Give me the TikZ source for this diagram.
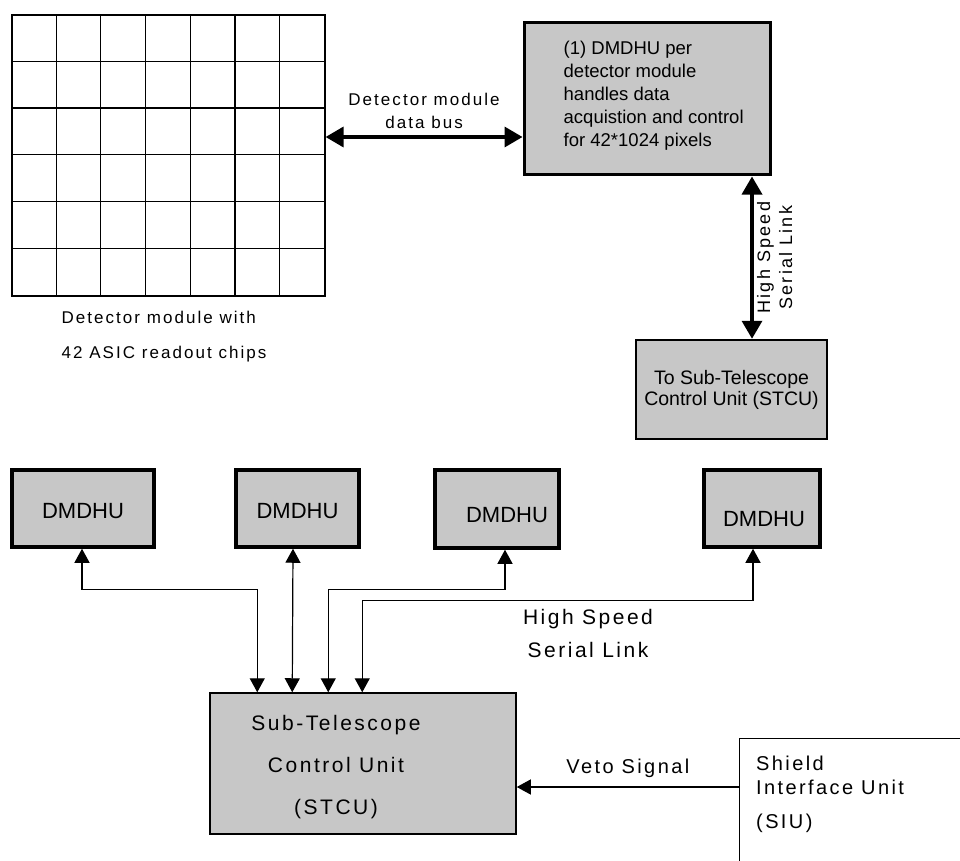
\documentclass[tikz,border=0pt]{standalone}
\usepackage{fontspec}
\setmainfont{Liberation Sans}
\newfontfamily\spaced[LetterSpace=12]{Liberation Sans}
\usetikzlibrary{arrows.meta,positioning,calc}

\begin{document}
\begin{tikzpicture}[x=1pt,y=-1pt]

  \tikzset{unit node/.style={rectangle, draw, fill=black!22,
  		line width=3.5pt, inner sep=0pt}, }
  \tikzset{dmdhu text/.style={font=\fontsize{22}{24}\selectfont}, }
  \tikzset{bus line/.style={{Triangle[width=20pt,length=18pt]}-{Triangle[width=20pt,length=18pt]}, line width=3.5pt}, }
  \tikzset{link line/.style={{Triangle[width=15pt,length=14pt]}-{Triangle[width=15pt,length=14pt]}, line width=1.2pt}, }
  \tikzset{veto line/.style={-{Triangle[width=15pt,length=14pt]}, line width=1.2pt}, }
  \useasboundingbox (0,0) rectangle (960,861);

    % detector module, 7 x 6 chips
    \node[draw, line width=1.2pt, minimum width=313pt, minimum height=281pt] (1) at (168.5,155.5) {};
    \foreach \i in {1,...,6}
      \draw[line width=1.2pt] (1.north west) ++(\i*44.71,0) -- ++(0,281);
    \foreach \j in {1,...,5}
      \draw[line width=1.2pt] (1.north west) ++(0,\j*46.83) -- ++(315,0);
    \node[align=left, inner sep=0pt, font=\spaced\fontsize{17}{35}\selectfont,
      below right=14pt and 50pt of 1.south west] (10) {Detector module with\\42 ASIC readout chips};

    \node[unit node, line width=3pt, minimum width=246pt, minimum height=152pt,
      label={[anchor=west, xshift=41pt, yshift=3pt, inner sep=0pt, align=left, font=\fontsize{18.5}{23}\selectfont]west:{(1) DMDHU per\\detector module\\handles data\\acquistion and control\\for 42*1024 pixels}}] (2) at (647,99) {};
    \node[unit node, line width=2.5pt, minimum width=191pt, minimum height=99pt,
      align=center, font=\fontsize{19.5}{21}\selectfont] (3) at (731.5,389.5) {To Sub-Telescope\\Control Unit (STCU)};

    \node[unit node, minimum width=142pt, minimum height=77pt, label={[dmdhu text, yshift=-3pt]center:DMDHU}] (4) at (83,508.5) {};
    \node[unit node, minimum width=123pt, minimum height=77pt, label={[dmdhu text, yshift=-3pt]center:DMDHU}] (5) at (297.5,508.5) {};
    \node[unit node, minimum width=124pt, minimum height=78pt, label={[dmdhu text, xshift=10pt, yshift=-6pt]center:DMDHU}] (6) at (497,509) {};
    \node[unit node, minimum width=116pt, minimum height=77pt, label={[dmdhu text, xshift=2pt, yshift=-11pt]center:DMDHU}] (7) at (762,508.5) {};

    \node[unit node, line width=1.5pt, minimum width=306pt, minimum height=141pt,
      label={[xshift=-27pt, yshift=-4pt, align=center, font=\spaced\fontsize{21}{42}\selectfont]center:{Sub-Telescope\\Control Unit\\(STCU)}}] (8) at (363,763.5) {};
    \node[draw, line width=1pt, anchor=north west, minimum width=300pt, minimum height=200pt,
      label={[anchor=north west, xshift=17pt, yshift=-18pt, inner sep=0pt, align=left, font=\spaced\fontsize{20}{24}\selectfont]north west:{Shield\\Interface Unit\\[10pt](SIU)}}] (9) at (739,738) {};

    \draw[bus line] (1.east |- 0,137) -- node[above=3pt, align=center, font=\spaced\fontsize{17}{23}\selectfont]
      {Detector module\\data bus} (2.west |- 0,137);
    \draw[bus line] (2.south -| 752,0) -- node[rotate=90, anchor=north, align=center, font=\spaced\fontsize{18}{22}\selectfont]
      {High Speed\\Serial Link} (3.north -| 752,0);

\foreach \d/\dx/\len/\sx in {4/-1/41/48, 6/8/40/119, 7/-9/52/153}
  \draw[link line] ($(\d.south)+(\dx,0)$) -- ++(0,\len) -| ($(8.north west)+(\sx,0)$);
    \draw[link line] ($(5.south)+(-4.5,0)$) -- ($(8.north west)+(83,0)$);
    \node[align=center, font=\spaced\fontsize{21}{33}\selectfont] (11) at (588,633) {High Speed\\Serial Link};

    \draw[veto line] (9.west |- 0,787) -- node[above=5pt, font=\spaced\fontsize{20}{24}\selectfont] {Veto Signal} (8.east |- 0,787);
%%
\end{tikzpicture}
\end{document}
